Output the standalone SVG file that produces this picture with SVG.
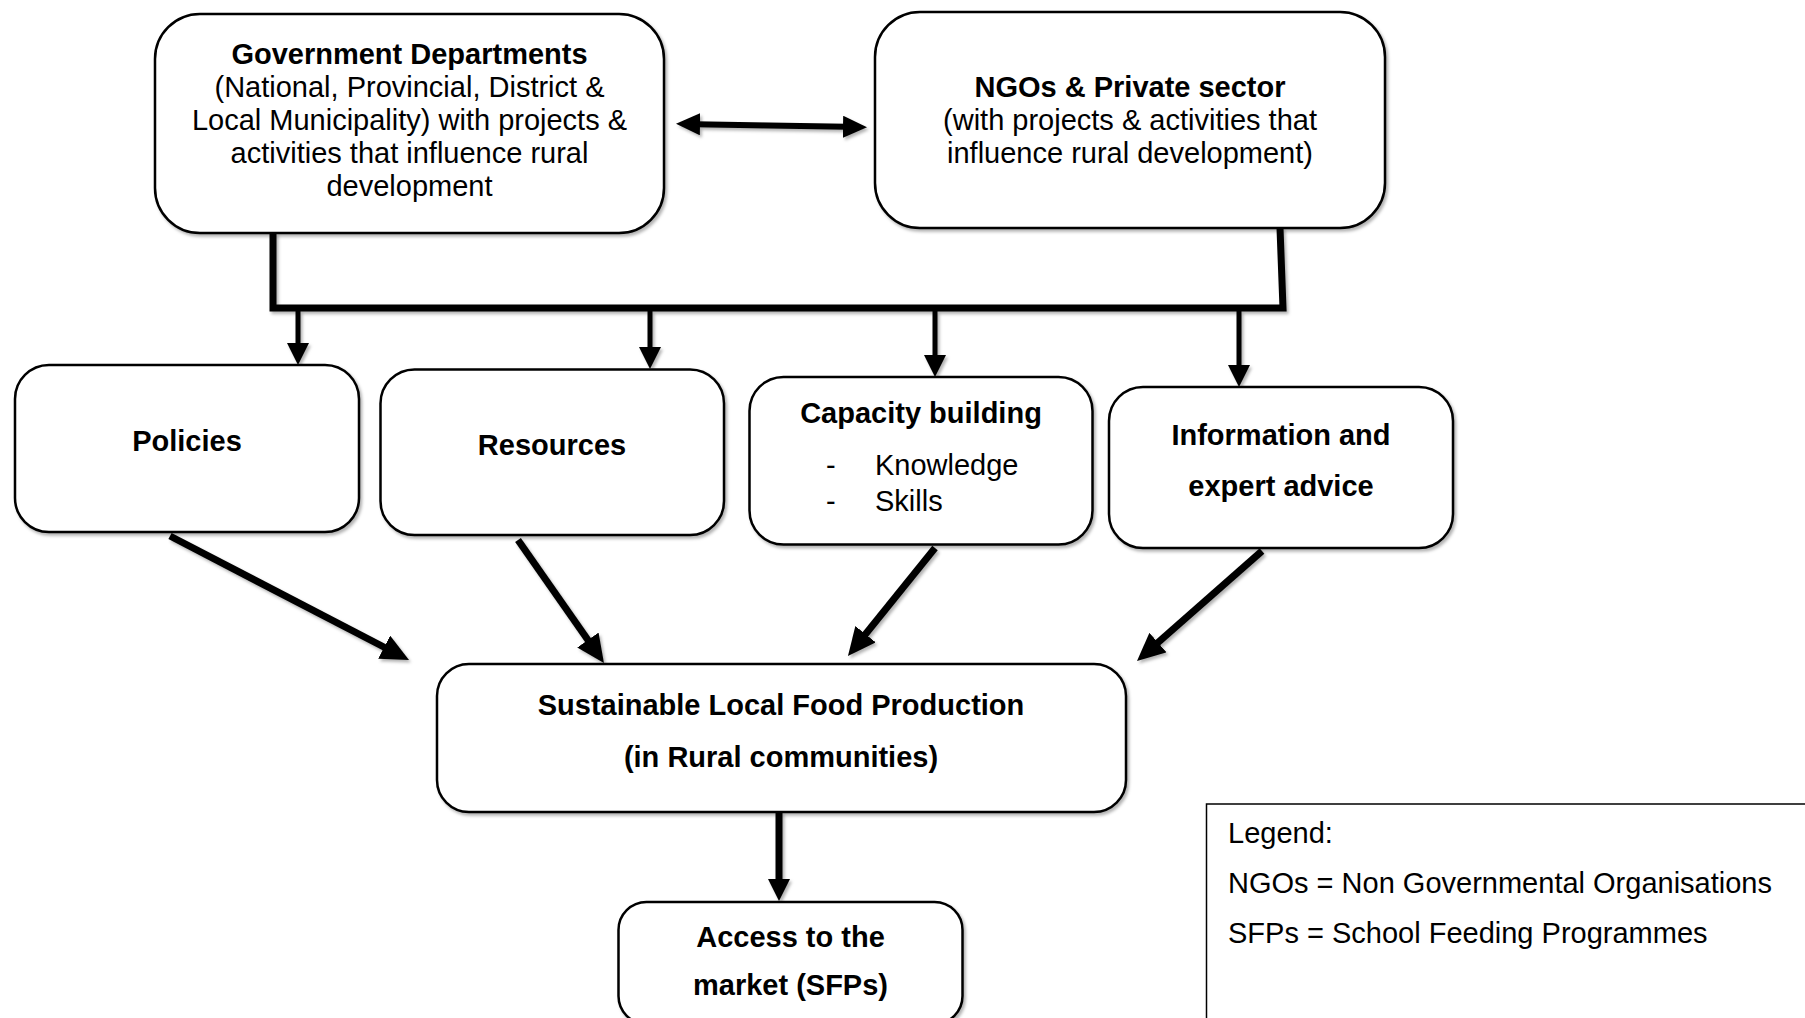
<svg xmlns="http://www.w3.org/2000/svg" width="1805" height="1018" viewBox="0 0 1805 1018">
<style>
text{font-family:"Liberation Sans",Arial,sans-serif;font-size:29px;fill:#000}
.b{font-weight:bold}
.c{text-anchor:middle}
.box{fill:#fff;stroke:#000;stroke-width:2.5}
.ln{fill:none;stroke:#000;stroke-linecap:butt}
</style>
<defs>
<filter id="sh" x="-10%" y="-10%" width="130%" height="130%">
<feDropShadow dx="2" dy="2.5" stdDeviation="1.5" flood-color="#000" flood-opacity="0.3"/>
</filter>
<marker id="ahL" viewBox="0 0 28 26" refX="4" refY="13" markerWidth="28" markerHeight="26" markerUnits="userSpaceOnUse" orient="auto-start-reverse">
<path d="M0,0 L28,13 L0,26 z" fill="#000"/>
</marker>
<marker id="ahS" viewBox="0 0 22 22" refX="4" refY="11" markerWidth="22" markerHeight="22" markerUnits="userSpaceOnUse" orient="auto-start-reverse">
<path d="M0,0 L22,11 L0,22 z" fill="#000"/>
</marker>
<marker id="ahD" viewBox="0 0 24 22" refX="4" refY="11" markerWidth="24" markerHeight="22" markerUnits="userSpaceOnUse" orient="auto-start-reverse">
<path d="M0,0 L24,11 L0,22 z" fill="#000"/>
</marker>
</defs>
<rect width="1805" height="1018" fill="#fff"/>

<g id="connectors" filter="url(#sh)">
<path class="ln" d="M696,124.2 L847,126.8" stroke-width="6" marker-start="url(#ahD)" marker-end="url(#ahD)"/>
<path class="ln" d="M273,233 L273,308 L1283,308 L1280,228" stroke-width="7" stroke-linejoin="miter"/>
<path class="ln" d="M298,308 L298,347" stroke-width="5" marker-end="url(#ahS)"/>
<path class="ln" d="M650,308 L650,351" stroke-width="5" marker-end="url(#ahS)"/>
<path class="ln" d="M935,308 L935,359" stroke-width="5" marker-end="url(#ahS)"/>
<path class="ln" d="M1239,308 L1239,369" stroke-width="5" marker-end="url(#ahS)"/>
<path class="ln" d="M170,536 L387.7,649" stroke-width="7" marker-end="url(#ahL)"/>
<path class="ln" d="M518,540 L590.2,643.3" stroke-width="7" marker-end="url(#ahL)"/>
<path class="ln" d="M935,548 L863,637.3" stroke-width="7" marker-end="url(#ahL)"/>
<path class="ln" d="M1262,551 L1155,645.2" stroke-width="7" marker-end="url(#ahL)"/>
<path class="ln" d="M779,812 L779,883" stroke-width="7" marker-end="url(#ahS)"/>
</g>

<g id="gov">
<rect class="box" x="155" y="14" width="509" height="219" rx="45" ry="45" filter="url(#sh)"/>
<text class="c b" x="409.5" y="63.5">Government Departments</text>
<text class="c" x="409.5" y="96.7">(National, Provincial, District &amp;</text>
<text class="c" x="409.5" y="129.9">Local Municipality) with projects &amp;</text>
<text class="c" x="409.5" y="163.1">activities that influence rural</text>
<text class="c" x="409.5" y="196.3">development</text>
</g>

<g id="ngo">
<rect class="box" x="875" y="12" width="510" height="216" rx="45" ry="45" filter="url(#sh)"/>
<text class="c b" x="1130" y="97">NGOs &amp; Private sector</text>
<text class="c" x="1130" y="130">(with projects &amp; activities that</text>
<text class="c" x="1130" y="163">influence rural development)</text>
</g>

<g id="policies">
<rect class="box" x="15" y="365" width="344" height="167" rx="34" ry="34" filter="url(#sh)"/>
<text class="c b" x="187" y="450.5">Policies</text>
</g>

<g id="resources">
<rect class="box" x="380.5" y="369.5" width="343.5" height="165.5" rx="34" ry="34" filter="url(#sh)"/>
<text class="c b" x="552" y="455">Resources</text>
</g>

<g id="capacity">
<rect class="box" x="749.5" y="377" width="343" height="167.5" rx="34" ry="34" filter="url(#sh)"/>
<text class="c b" x="921" y="423">Capacity building</text>
<text x="826" y="475">-</text>
<text x="875" y="475">Knowledge</text>
<text x="826" y="510.5">-</text>
<text x="875" y="510.5">Skills</text>
</g>

<g id="info">
<rect class="box" x="1109" y="387" width="344" height="161" rx="34" ry="34" filter="url(#sh)"/>
<text class="c b" x="1281" y="445">Information and</text>
<text class="c b" x="1281" y="495.5">expert advice</text>
</g>

<g id="production">
<rect class="box" x="437" y="664" width="689" height="148" rx="32" ry="32" filter="url(#sh)"/>
<text class="c b" x="781" y="714.5">Sustainable Local Food Production</text>
<text class="c b" x="781" y="766.5">(in Rural communities)</text>
</g>

<g id="access">
<rect class="box" x="618.5" y="902" width="344" height="122" rx="28" ry="28" filter="url(#sh)"/>
<text class="c b" x="790.5" y="946.5">Access to the</text>
<text class="c b" x="790.5" y="995">market (SFPs)</text>
</g>

<g id="legend">
<rect x="1206.5" y="804" width="700" height="300" fill="#fff" stroke="#000" stroke-width="1.5"/>
<text x="1228" y="842.5">Legend:</text>
<text x="1228" y="892.5">NGOs = Non Governmental Organisations</text>
<text x="1228" y="942.5">SFPs = School Feeding Programmes</text>
</g>
</svg>
